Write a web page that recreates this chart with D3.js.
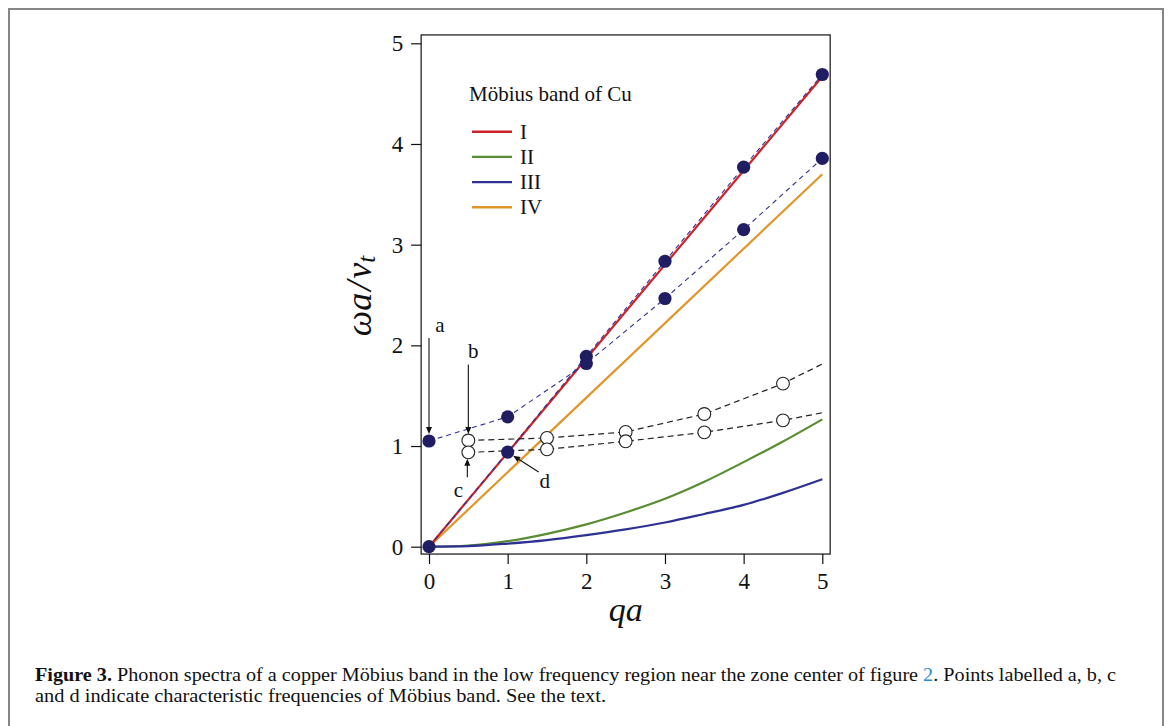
<!DOCTYPE html>
<html>
<head>
<meta charset="utf-8">
<script src="https://cdn.jsdelivr.net/npm/d3@7"></script>
<style>
  body { margin: 0; background: #fff; }
  text { font-family: 'Liberation Serif', 'DejaVu Serif', serif; fill: #111; }
</style>
</head>
<body>
<script>
// window size
var wW = 1170;
var wH = 726;

// --- data ---
var xTicks = [0, 1, 2, 3, 4, 5];
var yTicks = [0, 1, 2, 3, 4, 5];

// sample positions used for the curved branches
var qaSamples = [0, 0.5, 1, 1.5, 2, 2.5, 3, 3.5, 4, 4.5, 5];
var branchII = [0, 0.012, 0.055, 0.128, 0.222, 0.34, 0.476, 0.645, 0.84, 1.045, 1.265];
var branchIII = [0, 0.006, 0.031, 0.066, 0.115, 0.172, 0.24, 0.325, 0.415, 0.535, 0.67];

// straight branches (end points)
var qaEnds = [0, 5];
var branchI = [0, 4.67];
var branchIV = [0, 3.70];

// filled dots (integer qa)
var qaInt = [0, 1, 2, 3, 4, 5];
var dotsLower = [0, 0.94, 1.89, 2.835, 3.77, 4.69];
var dotsUpper = [1.05, 1.29, 1.82, 2.465, 3.15, 3.857];

// open circles (half-integer qa) plus the dashed tail to qa = 5
var qaHalf = [0.5, 1.5, 2.5, 3.5, 4.5];
var openUpper = [1.055, 1.08, 1.14, 1.318, 1.62];
var openLower = [0.937, 0.967, 1.047, 1.136, 1.255];
var tailUpper = 1.815;
var tailLower = 1.33;

var legendNames = ['I', 'II', 'III', 'IV'];
var legendColors = ['#cc2229', '#5a8c33', '#2e3192', '#e0962b'];

// --- svg ---
var svg = d3.select('body').append('svg')
  .attr('width', wW)
  .attr('height', wH);

// outer figure border
svg.append('path')
  .attr('d', 'M9 ' + wH + ' V9 H1163 V' + wH)
  .attr('fill', 'none')
  .attr('stroke', '#858585')
  .attr('stroke-width', 2);

var x = d3.scaleLinear().domain([0, 5]).range([429, 822.3]);
var y = d3.scaleLinear().domain([0, 5]).range([546.7, 43.3]);

var fLeft = x(-0.1), fRight = x(5.1), fTop = y(5.083), fBottom = y(-0.073);

// frame
svg.append('rect')
  .attr('x', fLeft)
  .attr('y', fTop)
  .attr('width', fRight - fLeft)
  .attr('height', fBottom - fTop)
  .attr('fill', 'none')
  .attr('stroke', '#111')
  .attr('stroke-width', 1.2);

// axes
var xAxis = svg.append('g')
  .attr('transform', 'translate(0,' + fBottom + ')')
  .call(d3.axisBottom(x).tickValues(xTicks).tickFormat(d3.format('d'))
    .tickSizeInner(10).tickSizeOuter(0).tickPadding(9));

var yAxis = svg.append('g')
  .attr('transform', 'translate(' + fLeft + ',0)')
  .call(d3.axisLeft(y).tickValues(yTicks).tickFormat(d3.format('d'))
    .tickSizeInner(10).tickSizeOuter(0).tickPadding(8));

[xAxis, yAxis].forEach((ax) => {
  ax.select('.domain').remove();
  ax.selectAll('line').attr('stroke', '#111').attr('stroke-width', 1.2);
  ax.selectAll('text')
    .attr('font-family', "'Liberation Serif', serif")
    .attr('font-size', 23)
    .attr('fill', '#111');
});

// axis titles
svg.append('text')
  .attr('x', x(2.5))
  .attr('y', 621)
  .attr('text-anchor', 'middle')
  .attr('font-size', 34)
  .attr('font-style', 'italic')
  .text('qa');

var yTitle = svg.append('text')
  .attr('transform', 'translate(371,296) rotate(-90)')
  .attr('text-anchor', 'middle')
  .attr('font-size', 36)
  .attr('font-style', 'italic');
yTitle.append('tspan').text('ωa');
yTitle.append('tspan').attr('dx', 2).text('/');
yTitle.append('tspan').attr('dx', 2).text('v');
yTitle.append('tspan').attr('font-size', 25).attr('dy', 4).text('t');

// --- curves ---
var line = d3.line().x(d => x(d[0])).y(d => y(d[1]));
var smooth = d3.line().x(d => x(d[0])).y(d => y(d[1])).curve(d3.curveMonotoneX);

var zip = (xs, ys) => xs.map((v, i) => [v, ys[i]]);

var plot = svg.append('g');

plot.append('path').attr('d', line(zip(qaEnds, branchIV)))
  .attr('fill', 'none').attr('stroke', legendColors[3]).attr('stroke-width', 2.2);
plot.append('path').attr('d', smooth(zip(qaSamples, branchII)))
  .attr('fill', 'none').attr('stroke', legendColors[1]).attr('stroke-width', 2.2);
plot.append('path').attr('d', smooth(zip(qaSamples, branchIII)))
  .attr('fill', 'none').attr('stroke', legendColors[2]).attr('stroke-width', 2.2);
plot.append('path').attr('d', line(zip(qaEnds, branchI)))
  .attr('fill', 'none').attr('stroke', legendColors[0]).attr('stroke-width', 2.2);

// dashed guides
plot.append('path').attr('d', line(zip(qaInt, dotsLower)))
  .attr('fill', 'none').attr('stroke', '#2e3192').attr('stroke-width', 1.1)
  .attr('stroke-dasharray', '5,4');
plot.append('path').attr('d', line(zip(qaInt, dotsUpper)))
  .attr('fill', 'none').attr('stroke', '#2e3192').attr('stroke-width', 1.1)
  .attr('stroke-dasharray', '5,4');
plot.append('path').attr('d', line(zip(qaHalf.concat([5]), openUpper.concat([tailUpper]))))
  .attr('fill', 'none').attr('stroke', '#222').attr('stroke-width', 1.2)
  .attr('stroke-dasharray', '6,4');
plot.append('path').attr('d', line(zip(qaHalf.concat([5]), openLower.concat([tailLower]))))
  .attr('fill', 'none').attr('stroke', '#222').attr('stroke-width', 1.2)
  .attr('stroke-dasharray', '6,4');

// points
var dotColor = '#211d62';
[dotsLower, dotsUpper].forEach((vals) => {
  plot.selectAll(null).data(zip(qaInt, vals)).enter().append('circle')
    .attr('cx', d => x(d[0]))
    .attr('cy', d => y(d[1]))
    .attr('r', 6.6)
    .attr('fill', dotColor);
});
[openUpper, openLower].forEach((vals) => {
  plot.selectAll(null).data(zip(qaHalf, vals)).enter().append('circle')
    .attr('cx', d => x(d[0]))
    .attr('cy', d => y(d[1]))
    .attr('r', 6.4)
    .attr('fill', '#fff')
    .attr('stroke', '#222')
    .attr('stroke-width', 1.1);
});

// --- annotations a, b, c, d ---
var arrow = (x1, y1, x2, y2) => {
  var ang = Math.atan2(y2 - y1, x2 - x1);
  var hl = 7, hw = 3;
  plot.append('line')
    .attr('x1', x1).attr('y1', y1)
    .attr('x2', x2 - Math.cos(ang) * hl * 0.8).attr('y2', y2 - Math.sin(ang) * hl * 0.8)
    .attr('stroke', '#111').attr('stroke-width', 1.1);
  var bx = x2 - Math.cos(ang) * hl, by = y2 - Math.sin(ang) * hl;
  var px = -Math.sin(ang) * hw, py = Math.cos(ang) * hw;
  plot.append('path')
    .attr('d', 'M' + x2 + ' ' + y2 + ' L' + (bx + px) + ' ' + (by + py) + ' L' + (bx - px) + ' ' + (by - py) + ' Z')
    .attr('fill', '#111');
};

var label = (t, lx, ly) => {
  plot.append('text')
    .attr('x', lx).attr('y', ly)
    .attr('text-anchor', 'middle')
    .attr('font-size', 21)
    .text(t);
};

// a -> upper dot at qa = 0
arrow(x(qaInt[0]), y(dotsUpper[0]) - 103, x(qaInt[0]), y(dotsUpper[0]) - 7);
label('a', x(qaInt[0]) + 11, y(dotsUpper[0]) - 109);
// b -> upper open circle at qa = 0.5
arrow(x(qaHalf[0]), y(openUpper[0]) - 76, x(qaHalf[0]), y(openUpper[0]) - 6.5);
label('b', x(qaHalf[0]) + 5, y(openUpper[0]) - 82);
// c -> lower open circle at qa = 0.5 (from below)
arrow(x(qaHalf[0]) - 1, y(openLower[0]) + 25, x(qaHalf[0]) - 1, y(openLower[0]) + 6.5);
label('c', x(qaHalf[0]) - 10, y(openLower[0]) + 45);
// d -> lower dot at qa = 1
var dx0 = x(qaInt[1]), dy0 = y(dotsLower[1]);
arrow(dx0 + 31, dy0 + 20, dx0 + 5.5, dy0 + 3.6);
label('d', dx0 + 37, dy0 + 36);

// --- legend ---
svg.append('text')
  .attr('x', 469)
  .attr('y', 101)
  .attr('font-size', 21)
  .text('Möbius band of Cu');

legendNames.forEach((n, i) => {
  var ly = 131.7 + i * 25.2;
  svg.append('line')
    .attr('x1', 472).attr('x2', 512)
    .attr('y1', ly).attr('y2', ly)
    .attr('stroke', legendColors[i])
    .attr('stroke-width', 2.4);
  svg.append('text')
    .attr('x', 520)
    .attr('y', ly + 7)
    .attr('font-size', 21)
    .text(n);
});

// --- caption ---
var cap1 = svg.append('text')
  .attr('x', 35).attr('y', 681)
  .attr('font-size', 18)
  .attr('textLength', 1081)
  .attr('lengthAdjust', 'spacingAndGlyphs');
cap1.append('tspan').attr('font-weight', 'bold').text('Figure 3.');
cap1.append('tspan').text(' Phonon spectra of a copper Möbius band in the low frequency region near the zone center of figure ');
cap1.append('tspan').style('fill', '#2a8fd0').text('2');
cap1.append('tspan').text('. Points labelled a, b, c');

svg.append('text')
  .attr('x', 35).attr('y', 702)
  .attr('font-size', 18)
  .attr('textLength', 571)
  .attr('lengthAdjust', 'spacingAndGlyphs')
  .text('and d indicate characteristic frequencies of Möbius band. See the text.');
</script>
</body>
</html>
